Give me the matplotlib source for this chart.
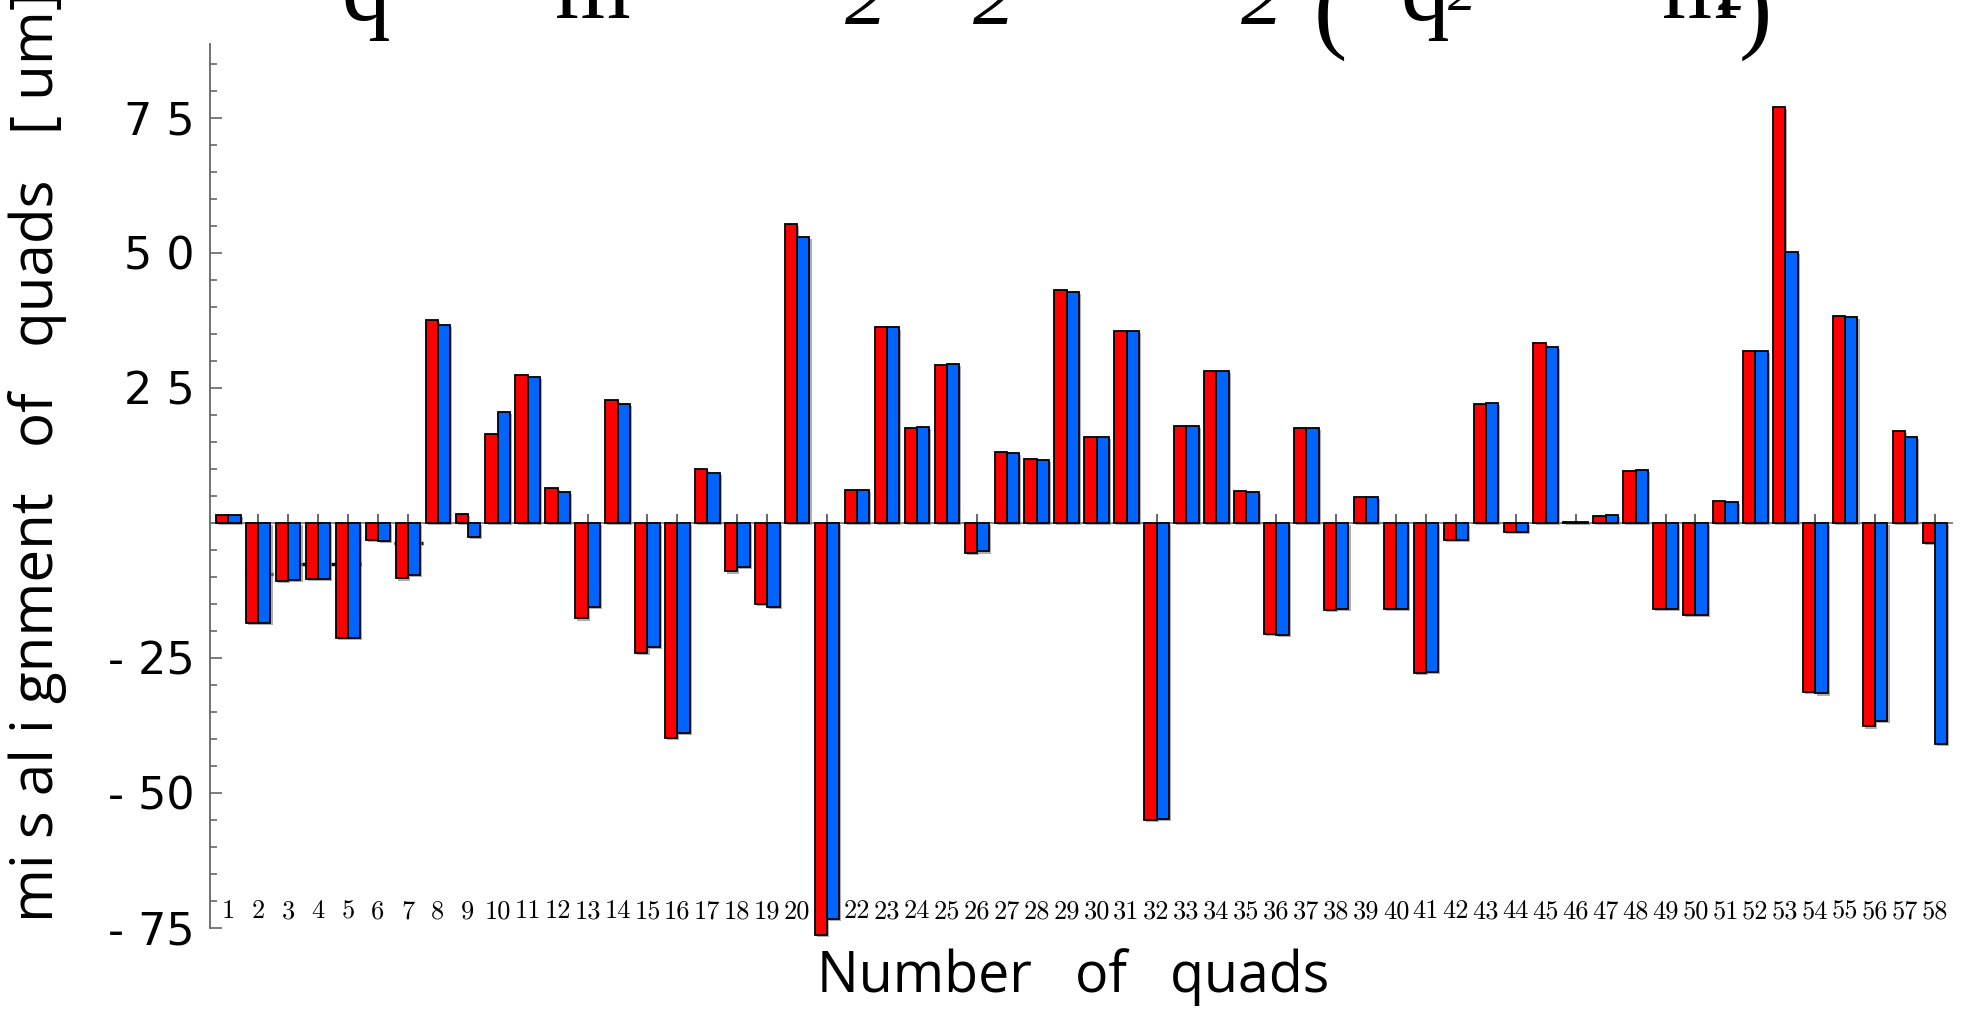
import matplotlib
matplotlib.use('Agg')
import matplotlib.pyplot as plt
import matplotlib.patheffects as pe
from matplotlib import font_manager

# misalignment of each quad, two cases (red / blue)
quads = list(range(1, 59))
misalign_red = [1.5, -18.5, -10.7, -10.4, -21.3, -3.2, -10.3, 37.6, 1.6, 16.5,
                27.4, 6.4, -17.7, 22.7, -24.1, -39.8, 10.0, -9.0, -15.0, 55.3,
                -76.4, 6.1, 36.2, 17.5, 29.3, -5.5, 13.1, 11.9, 43.1, 15.9,
                35.6, -55.0, 17.9, 28.2, 5.9, -20.6, 17.5, -16.1, 4.8, -16.0,
                -27.8, -3.1, 22.1, -1.6, 33.3, 0.1, 1.3, 9.7, -16.0, -17.0,
                4.0, 31.9, 77.1, -31.3, 38.4, -37.7, 17.0, -3.7]
misalign_blue = [1.5, -18.5, -10.5, -10.4, -21.3, -3.3, -9.6, 36.7, -2.6, 20.5,
                 27.1, 5.8, -15.6, 22.1, -23.0, -38.9, 9.3, -8.1, -15.6, 53.0,
                 -73.3, 6.1, 36.2, 17.7, 29.5, -5.3, 13.0, 11.7, 42.8, 15.9,
                 35.6, -54.9, 17.9, 28.2, 5.7, -20.8, 17.5, -16.0, 4.8, -15.9,
                 -27.6, -3.2, 22.2, -1.7, 32.6, 0.2, 1.4, 9.8, -15.9, -17.0,
                 3.8, 31.9, 50.1, -31.6, 38.2, -36.7, 16.0, -40.9]

# leftover dashed segments seen behind the first bars
dash_y = [-9.5, -7.7, -3.7]
dash_x0 = [1.55, 3.35, 6.55]
dash_x1 = [2.5, 5.45, 7.5]

y_major = [-75, -50, -25, 25, 50, 75]
y_major_labels = ['- 75', '- 50', '- 25', '2 5', '5 0', '7 5']
y_minor = list(range(-70, 90, 5))

# bits of the cut-off formula at the top edge
title_bits = ['q', 'm', '2', '2', '2', '(', 'q', '2', 'm', '2', ')']

names = {f.name for f in font_manager.fontManager.ttflist}
narrow = 'Liberation Sans Narrow' if 'Liberation Sans Narrow' in names else 'Open Sans'

fig = plt.figure(figsize=(19.77, 10.10), dpi=100)
ax = fig.add_axes([210 / 1977, 1 - 944 / 1010, (1953 - 210) / 1977, 900 / 1010])

w = 0.41
shadow = [pe.SimplePatchShadow(offset=(1.5, -1.5), shadow_rgbFace='0.55', alpha=0.7), pe.Normal()]
ax.bar([q - w for q in quads], misalign_red, width=w, align='edge', color='#ff0000',
       edgecolor='black', linewidth=1.3, zorder=3, path_effects=shadow)
ax.bar(quads, misalign_blue, width=w, align='edge', color='#0064ff',
       edgecolor='black', linewidth=1.3, zorder=3, path_effects=shadow)

ax.axhline(0, color='0.45', lw=1.2, zorder=2)
ax.vlines(quads, 0, 1.7, color='0.3', lw=1.2, zorder=1)
for y, x0, x1 in zip(dash_y, dash_x0, dash_x1):
    ax.plot([x0, x1], [y, y], color='black', lw=2.5, ls=(0, (4, 3)), zorder=1)

ax.set_xlim(0.39, 58.6)
ax.set_ylim(-78, 88.7)
ax.set_xticks([])
ax.set_yticks(y_major)
ax.set_yticklabels(y_major_labels, fontsize=32, family='DejaVu Sans')
ax.set_yticks(y_minor, minor=True)
ax.tick_params(axis='y', which='major', direction='in', length=8.6, width=1.2, color='0.4', pad=11)
ax.tick_params(axis='y', which='minor', direction='in', length=5, width=1.2, color='0.4')
for s in ['top', 'right', 'bottom']:
    ax.spines[s].set_visible(False)
ax.spines['left'].set_color('0.4')
ax.spines['left'].set_linewidth(1.3)
ax.spines['left'].set_bounds(-75, 88.7)

for q in quads:
    ax.text(q, -72, str(q), ha='center', va='center', fontsize=19, family='cmr10', zorder=1)

fig.text(0.019, 1 - 922 / 1010, 'mi s al i gnment   of   quads   [ um]', rotation=90,
         ha='center', va='bottom', fontsize=42, family=narrow)
fig.text(0.543, 0.033, 'Number   of   quads', ha='center', va='center', fontsize=40, family=narrow)

bit_x = [366, 593, 866, 994, 1262, 1330, 1425, 1462, 1700, 1732, 1755]
bit_base = [20, 18, 24, 24, 24, 40, 20, 10, 18, 10, 40]
bit_size = [70, 70, 60, 60, 60, 72, 70, 40, 70, 40, 72]
for s, x, b, fs in zip(title_bits, bit_x, bit_base, bit_size):
    fig.text(x / 1977, 1 - b / 1010, s, ha='center', va='baseline', fontsize=fs,
             family='Liberation Serif', style='italic' if s == '2' else 'normal')

fig.savefig('out.png', dpi=100)
